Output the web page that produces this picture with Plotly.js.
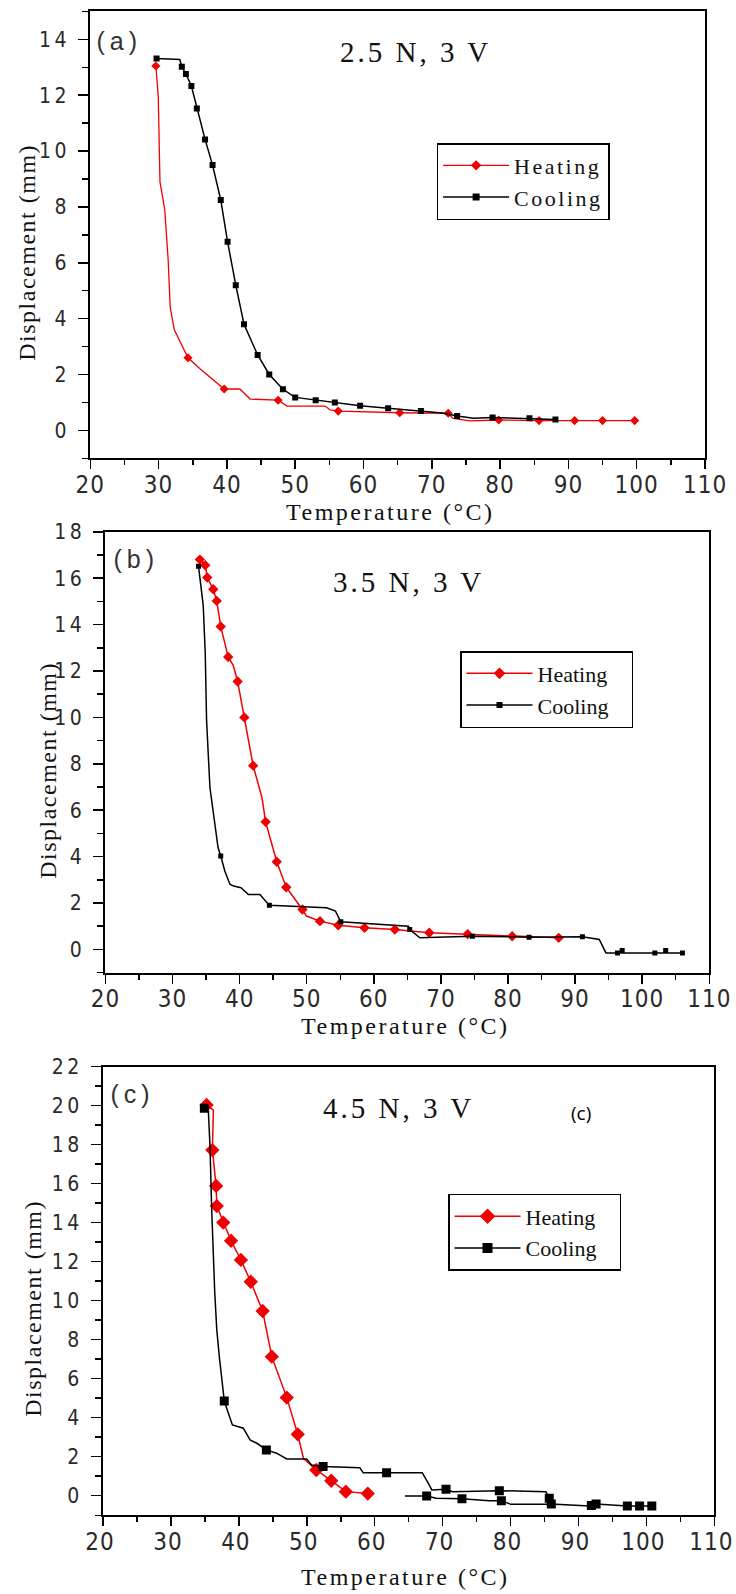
<!DOCTYPE html>
<html>
<head>
<meta charset="utf-8">
<script src="https://cdn.plot.ly/plotly-3.0.1.min.js"></script>
<style>
html,body{margin:0;padding:0;background:#fff;}
#chart{width:736px;height:1594px;}
.xtick text,.x2tick text,.x3tick text{letter-spacing:1px;}
.ytick text,.y2tick text,.y3tick text{letter-spacing:3.5px;}
.legendtext{letter-spacing:2.5px;}
.annotation[data-index="0"] text,.annotation[data-index="2"] text,.annotation[data-index="4"] text{letter-spacing:5px;}
.annotation[data-index="1"] text,.annotation[data-index="3"] text,.annotation[data-index="5"] text{letter-spacing:3px;}
.annotation[data-index="7"] text,.annotation[data-index="8"] text,.annotation[data-index="9"] text{letter-spacing:2.5px;}
.annotation[data-index="10"] text,.annotation[data-index="11"] text,.annotation[data-index="12"] text{letter-spacing:1.5px;}
</style>
</head>
<body>
<div id="chart"></div>
<script>
// ---------- Panel (a): 2.5 N, 3 V ----------
const aHeatT = [29.6, 29.95, 30.2, 30.9, 31.4, 31.7, 32.3, 34.3, 36.1, 38.3, 39.6, 41.9, 43.4, 47.5, 48.8, 54.4, 55.1, 56.3, 65.3, 72.4, 73.1, 75.6, 79.8, 85.7, 90.9, 95.0, 99.7];
const aHeatD = [13.05, 11.95, 8.9, 7.9, 6.1, 4.4, 3.6, 2.6, 2.2, 1.74, 1.48, 1.48, 1.12, 1.08, 0.87, 0.87, 0.73, 0.69, 0.63, 0.61, 0.43, 0.34, 0.37, 0.35, 0.35, 0.35, 0.35];
const aHeatMkT = [29.6, 34.3, 39.6, 47.5, 56.3, 65.3, 72.4, 79.8, 85.7, 90.9, 95.0, 99.7];
const aHeatMkD = [13.05, 2.6, 1.48, 1.08, 0.69, 0.63, 0.61, 0.37, 0.35, 0.35, 0.35, 0.35];
const aCoolT = [29.7, 33.1, 33.4, 34.0, 34.8, 35.6, 36.8, 37.9, 39.1, 40.1, 41.3, 42.5, 44.5, 46.2, 48.2, 50.0, 53.0, 55.8, 59.5, 63.6, 68.4, 71.5, 73.7, 76.1, 78.9, 84.3, 88.1];
const aCoolD = [13.32, 13.28, 13.02, 12.76, 12.33, 11.53, 10.42, 9.5, 8.25, 6.75, 5.2, 3.8, 2.7, 2.0, 1.47, 1.18, 1.08, 1.0, 0.88, 0.79, 0.69, 0.62, 0.51, 0.43, 0.46, 0.43, 0.39];
const aCoolMkT = [29.7, 33.4, 34.0, 34.8, 35.6, 36.8, 37.9, 39.1, 40.1, 41.3, 42.5, 44.5, 46.2, 48.2, 50.0, 53.0, 55.8, 59.5, 63.6, 68.4, 73.7, 78.9, 84.3, 88.1];
const aCoolMkD = [13.32, 13.02, 12.76, 12.33, 11.53, 10.42, 9.5, 8.25, 6.75, 5.2, 3.8, 2.7, 2.0, 1.47, 1.18, 1.08, 1.0, 0.88, 0.79, 0.69, 0.51, 0.46, 0.43, 0.39];

// ---------- Panel (b): 3.5 N, 3 V ----------
const bHeatT = [34.07, 34.87, 35.17, 36.07, 36.58, 37.18, 38.29, 39.04, 39.7, 40.7, 42.01, 43.32, 43.87, 45.53, 46.94, 49.36, 49.96, 51.97, 54.69, 58.61, 63.13, 68.26, 73.99, 80.62, 87.56];
const bHeatD = [16.8, 16.56, 16.03, 15.52, 15.02, 13.92, 12.6, 12.24, 11.55, 10.0, 7.92, 6.55, 5.5, 3.78, 2.68, 1.72, 1.44, 1.22, 1.04, 0.93, 0.86, 0.72, 0.66, 0.57, 0.5];
const bHeatMkT = [34.07, 34.87, 35.17, 36.07, 36.58, 37.18, 38.29, 39.7, 40.7, 42.01, 43.87, 45.53, 46.94, 49.36, 51.97, 54.69, 58.61, 63.13, 68.26, 73.99, 80.62, 87.56];
const bHeatMkD = [16.8, 16.56, 16.03, 15.52, 15.02, 13.92, 12.6, 11.55, 10.0, 7.92, 5.5, 3.78, 2.68, 1.72, 1.22, 1.04, 0.93, 0.86, 0.72, 0.66, 0.57, 0.5];
const bCoolT = [33.87, 34.57, 34.87, 35.07, 35.57, 36.78, 37.18, 37.79, 38.55, 39.1, 40.2, 41.31, 43.02, 44.43, 52.97, 54.28, 55.08, 60.12, 65.15, 65.35, 66.86, 74.69, 83.14, 91.09, 93.6, 94.6, 106.0];
const bCoolD = [16.51, 14.83, 12.8, 9.86, 6.98, 4.39, 4.03, 3.38, 2.81, 2.73, 2.66, 2.37, 2.37, 1.9, 1.8, 1.65, 1.19, 1.08, 1.0, 0.86, 0.5, 0.57, 0.53, 0.55, 0.43, -0.15, -0.15];
const bCoolMkT = [33.87, 37.18, 44.43, 55.08, 65.35, 74.69, 83.14, 91.09, 96.32, 97.02, 101.89, 103.5, 106.0];
const bCoolMkD = [16.51, 4.03, 1.9, 1.19, 0.86, 0.57, 0.53, 0.55, -0.15, -0.04, -0.15, -0.04, -0.15];

// ---------- Panel (c): 4.5 N, 3 V ----------
const cHeatT = [35.25, 36.25, 36.1, 36.65, 36.75, 37.7, 38.85, 40.3, 41.75, 43.5, 44.85, 47.05, 48.67, 49.5, 51.4, 53.6, 55.75, 58.98];
const cHeatD = [20.03, 19.77, 17.72, 15.88, 14.85, 14.0, 13.07, 12.09, 10.97, 9.47, 7.13, 5.03, 3.15, 1.92, 1.32, 0.77, 0.21, 0.11];
const cHeatMkT = [35.25, 36.1, 36.65, 36.75, 37.7, 38.85, 40.3, 41.75, 43.5, 44.85, 47.05, 48.67, 51.4, 53.6, 55.75, 58.98];
const cHeatMkD = [20.03, 17.72, 15.88, 14.85, 14.0, 13.07, 12.09, 10.97, 9.47, 7.13, 5.03, 3.15, 1.32, 0.77, 0.21, 0.11];
const cCoolT = [34.92, 35.5, 35.75, 36.0, 36.45, 36.75, 37.12, 37.85, 38.45, 39.05, 40.65, 41.65, 42.65, 44.05, 45.55, 47.05, 49.98, 50.7, 52.4, 57.8, 58.3, 61.75, 67.0, 67.9, 68.4, 70.5, 71.45, 78.35, 85.2, 85.7, 86.0, 91.6, 92.6, 97.2, 99.0, 100.8, null, 64.45, 67.65, 69.05, 72.85, 76.85, 78.65, 80.05, 86.0];
const cCoolD = [19.86, 19.77, 17.9, 14.65, 10.4, 8.5, 7.13, 4.86, 4.23, 3.63, 3.46, 2.86, 2.69, 2.35, 2.18, 1.89, 1.89, 1.58, 1.5, 1.44, 1.18, 1.18, 1.18, 0.64, 0.3, 0.33, 0.21, 0.26, 0.21, -0.13, -0.42, -0.52, -0.42, -0.52, -0.52, -0.52, null, -0.01, -0.01, -0.13, -0.16, -0.25, -0.25, -0.44, -0.44];
const cCoolMkT = [34.92, 37.85, 44.05, 52.4, 61.75, 70.5, 78.35, 85.7, 86.0, 91.9, 92.6, 97.2, 99.0, 100.8, 67.65, 72.85, 78.65];
const cCoolMkD = [19.86, 4.86, 2.35, 1.5, 1.18, 0.33, 0.26, -0.13, -0.42, -0.5, -0.42, -0.52, -0.52, -0.52, -0.01, -0.16, -0.25];

// ---------- Text ----------
const seriesNames = ['Heating', 'Cooling'];
const panelTags = ['(a)', '(b)', '(c)'];
const loadLabels = ['2.5 N, 3 V', '3.5 N, 3 V', '4.5 N, 3 V'];
const extraTag = '(c)';
const xTitle = 'Temperature (°C)';
const yTitle = 'Displacement (mm)';

const RED = '#f00000', BLACK = '#000000';
const SERIF = 'Liberation Serif, Times New Roman, serif';
const NARROW = 'Liberation Sans Narrow, DejaVu Sans Condensed, Liberation Sans, sans-serif';
const SANS = 'Liberation Sans, Arial, sans-serif';

function series(xs, ys, mx, my, name, color, symbol, msize, lw, xa, ya, leg) {
  return [
    {type:'scatter', x:xs, y:ys, mode:'lines', line:{color:color, width:lw}, xaxis:xa, yaxis:ya, showlegend:false, hoverinfo:'skip', connectgaps:false},
    {type:'scatter', x:mx, y:my, mode:'markers', marker:{symbol:symbol, size:msize, color:color}, xaxis:xa, yaxis:ya, showlegend:false},
    {type:'scatter', x:[null], y:[null], mode:'lines+markers', name:name, line:{color:color, width:lw}, marker:{symbol:symbol, size:msize + 1, color:color}, xaxis:xa, yaxis:ya, legend:leg, showlegend:true}
  ];
}

const data = [].concat(
  series(aHeatT, aHeatD, aHeatMkT, aHeatMkD, seriesNames[0], RED, 'diamond', 7, 1.3, 'x', 'y', 'legend'),
  series(aCoolT, aCoolD, aCoolMkT, aCoolMkD, seriesNames[1], BLACK, 'square', 6, 1.5, 'x', 'y', 'legend'),
  series(bHeatT, bHeatD, bHeatMkT, bHeatMkD, seriesNames[0], RED, 'diamond', 8, 1.5, 'x2', 'y2', 'legend2'),
  series(bCoolT, bCoolD, bCoolMkT, bCoolMkD, seriesNames[1], BLACK, 'square', 5, 1.5, 'x2', 'y2', 'legend2'),
  series(cHeatT, cHeatD, cHeatMkT, cHeatMkD, seriesNames[0], RED, 'diamond', 11, 1.5, 'x3', 'y3', 'legend3'),
  series(cCoolT, cCoolD, cCoolMkT, cCoolMkD, seriesNames[1], BLACK, 'square', 9, 1.5, 'x3', 'y3', 'legend3')
);

function xaxis(domain, anchor, shift) {
  return {
    domain: domain, anchor: anchor, range: [20, 110], tick0: 20, dtick: 10,
    ticks: 'outside', ticklen: 9, tickwidth: 1.5, tickcolor: '#000',
    minor: {tick0: 20, dtick: 5, ticks: 'outside', ticklen: 5, tickwidth: 1.5, tickcolor: '#000', showgrid: false},
    showline: true, linecolor: '#000', linewidth: 2, mirror: true,
    showgrid: false, zeroline: false, ticklabelstandoff: -5, ticklabelshift: shift || 0, ticklabeloverflow: 'allow',
    tickfont: {family: NARROW, size: 24, color: '#2a2a2a'}
  };
}
function yaxis(domain, anchor, range) {
  return {
    domain: domain, anchor: anchor, range: range, tick0: 0, dtick: 2,
    ticks: 'outside', ticklen: 10, tickwidth: 1.5, tickcolor: '#000',
    minor: {tick0: 0, dtick: 1, ticks: 'outside', ticklen: 6, tickwidth: 1.5, tickcolor: '#000', showgrid: false},
    showline: true, linecolor: '#000', linewidth: 2, mirror: true,
    showgrid: false, zeroline: false, ticklabelstandoff: 4,
    tickfont: {family: NARROW, size: 21, color: '#2a2a2a'}
  };
}
function legend(x, y) {
  return {
    x: x, y: y, xanchor: 'left', yanchor: 'middle', xref: 'paper', yref: 'paper',
    bgcolor: '#fff', bordercolor: '#000', borderwidth: 1.5,
    font: {family: SERIF, size: 22, color: '#111'}, itemwidth: 66, traceorder: 'normal'
  };
}
function ann(text, x, y, family, size, color, angle) {
  return {text: text, x: x, y: y, xref: 'paper', yref: 'paper', xanchor: 'center', yanchor: 'middle', showarrow: false, textangle: angle || 0, font: {family: family, size: size, color: color}};
}

const layout = {
  width: 736, height: 1594, margin: {l: 0, r: 0, t: 0, b: 0},
  paper_bgcolor: '#fff', plot_bgcolor: '#fff', showlegend: true,
  xaxis: xaxis([0.1227, 0.9579], 'y'),
  yaxis: yaxis([0.7125, 0.9928], 'x', [-1, 15]),
  xaxis2: xaxis([0.1433, 0.9637], 'y2'),
  yaxis2: yaxis([0.3898, 0.6664], 'x2', [-1, 18]),
  xaxis3: xaxis([0.1400, 0.9705], 'y3', -3),
  yaxis3: yaxis([0.0494, 0.3309], 'x3', [-1, 22]),
  legend: legend(0.5932, 0.8861),
  legend2: legend(0.625, 0.5674),
  legend3: legend(0.6087, 0.2268),
  annotations: [
    ann(panelTags[0], 0.163, 0.9743, SANS, 25, '#333'),
    ann(loadLabels[0], 0.5639, 0.9674, SERIF, 29, '#111'),
    ann(panelTags[1], 0.1848, 0.6493, SANS, 25, '#333'),
    ann(loadLabels[1], 0.5544, 0.6349, SERIF, 29, '#111'),
    ann(panelTags[2], 0.1807, 0.3137, SANS, 25, '#333'),
    ann(loadLabels[2], 0.5421, 0.3049, SERIF, 29, '#111'),
    ann(extraTag, 0.7894, 0.3018, 'Open Sans, Noto Sans, sans-serif', 19, '#000'),
    ann(xTitle, 0.5299, 0.6788, SERIF, 24, '#111'),
    ann(xTitle, 0.5516, 0.3563, SERIF, 24, '#111'),
    ann(xTitle, 0.5516, 0.0106, SERIF, 24, '#111'),
    ann(yTitle, 0.0367, 0.8413, SERIF, 24, '#111', -90),
    ann(yTitle, 0.0652, 0.5169, SERIF, 24, '#111', -90),
    ann(yTitle, 0.0448, 0.1794, SERIF, 24, '#111', -90)
  ]
};

Plotly.newPlot('chart', data, layout, {staticPlot: true, displayModeBar: false});
</script>
</body>
</html>
